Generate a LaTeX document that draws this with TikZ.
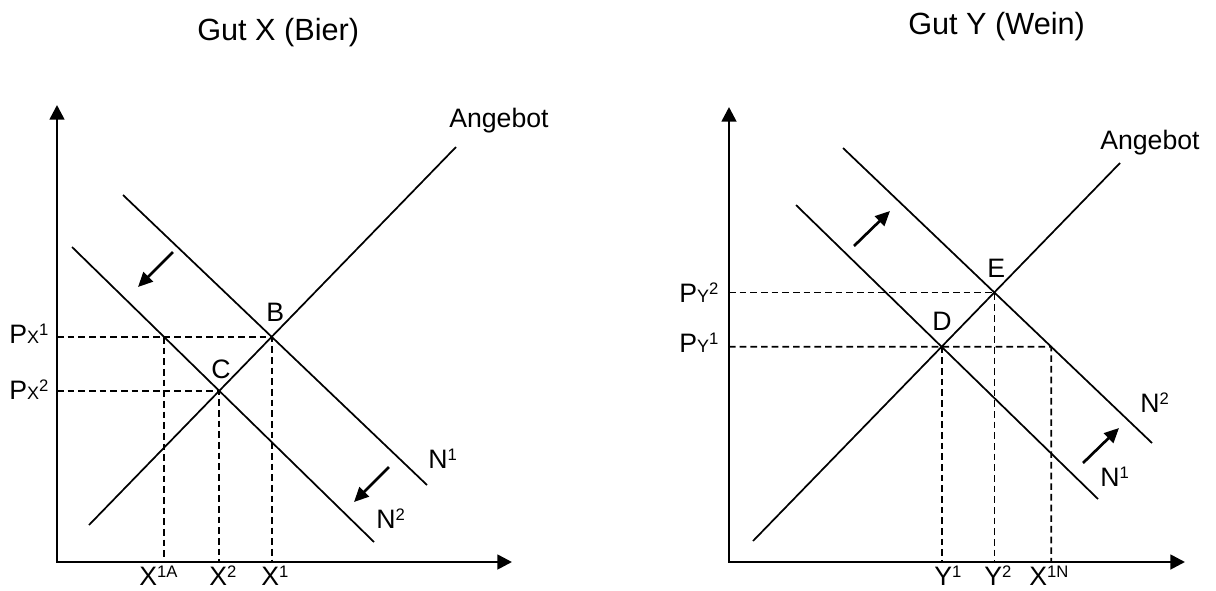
\documentclass[tikz,border=0pt]{standalone}
\usepackage{fontspec}
\setmainfont{Liberation Sans}
\usetikzlibrary{arrows.meta}
\newcommand{\hoch}[1]{\raisebox{5.4pt}{\fontsize{12.5}{13}\selectfont #1}}
\newcommand{\idx}[1]{{\fontsize{13.5}{14}\selectfont #1}}

\begin{document}
\begin{tikzpicture}[
    x=0.75pt,y=-0.75pt,
    >={Triangle[length=11pt,width=11pt]},
    axis/.style={<->,line width=2pt},
    curve/.style={line width=1.3pt},
    guide/.style={line width=1.3pt,dash pattern=on 5pt off 3pt},
    shiftarrow/.style={-{Triangle[length=11pt,width=10pt]},line width=2pt},
    lbl/.style={font=\fontsize{20}{24}\selectfont,inner sep=0pt,anchor=base west},
    heading/.style={font=\fontsize{23}{27}\selectfont,inner sep=0pt,anchor=base west}
  ]
    \useasboundingbox (0,0) rectangle (1216,590);

    % Gut X (Bier): demand falls from N1 to N2.
    \node[heading] (titelx) at (197,40) {Gut X (Bier)};
    \coordinate (ox) at (57,562);
    \coordinate (oxtop) at (57,105);
    \coordinate (oxend) at (512,562);
    \draw[axis] (oxtop) -- (ox) -- (oxend);
    \coordinate (sxa) at (89,525);
    \coordinate (sxb) at (456,147);
    \coordinate (nxa) at (123,195);
    \coordinate (nxb) at (427,485);
    \coordinate (mxa) at (72,247);
    \coordinate (mxb) at (374,542);
    \coordinate (B) at (intersection of sxa--sxb and nxa--nxb);
    \coordinate (C) at (intersection of sxa--sxb and mxa--mxb);
    \coordinate (px1) at (ox |- B);
    \coordinate (px2) at (ox |- C);
    \coordinate (x1a) at (intersection of mxa--mxb and px1--B);
    \draw[guide] (px1) -- (B) -- (B |- ox);
    \draw[guide] (px2) -- (C) -- (C |- ox);
    \draw[guide] (x1a) -- (x1a |- ox);
    \draw[curve] (sxa) -- (sxb);
    \draw[curve] (nxa) -- (nxb);
    \draw[curve] (mxa) -- (mxb);
    \coordinate (ax1) at (173,252);
    \coordinate (ax2) at (138,287);
    \coordinate (bx1) at (389,467);
    \coordinate (bx2) at (354,502);
    \draw[shiftarrow] (ax1) -- (ax2);
    \draw[shiftarrow] (bx1) -- (bx2);
    \node[lbl] (angx) at (449,127) {Angebot};
    \node[lbl] (labB) at (266,321) {B};
    \node[lbl] (labC) at (211,378) {C};
    \node[lbl] (labnx1) at (428,468) {N\hoch{1}};
    \node[lbl] (labnx2) at (376,528) {N\hoch{2}};
    \node[lbl] (labpx1) at (9,343) {P\idx{X}\hoch{1}};
    \node[lbl] (labpx2) at (9,399) {P\idx{X}\hoch{2}};
    \node[lbl] (labx1a) at (139,585) {X\hoch{1A}};
    \node[lbl] (labx2) at (209,585) {X\hoch{2}};
    \node[lbl] (labx1) at (261,585) {X\hoch{1}};

    % Gut Y (Wein): demand rises from N1 to N2.
    \node[heading] (titely) at (908,34) {Gut Y (Wein)};
    \coordinate (oy) at (729,562);
    \coordinate (oytop) at (729,107);
    \coordinate (oyend) at (1185,562);
    \draw[axis] (oytop) -- (oy) -- (oyend);
    \coordinate (sya) at (753,541);
    \coordinate (syb) at (1120,163);
    \coordinate (nya) at (796,205);
    \coordinate (nyb) at (1098,499);
    \coordinate (mya) at (843,148);
    \coordinate (myb) at (1152,443);
    \coordinate (D) at (intersection of sya--syb and nya--nyb);
    \coordinate (E) at (intersection of sya--syb and mya--myb);
    \coordinate (py1) at (oy |- D);
    \coordinate (py2) at (oy |- E);
    \coordinate (x1n) at (intersection of mya--myb and py1--D);
    \draw[guide] (py2) -- (E) -- (E |- oy);
    \draw[guide] (py1) -- (x1n) -- (x1n |- oy);
    \draw[guide] (D) -- (D |- oy);
    \draw[curve] (sya) -- (syb);
    \draw[curve] (nya) -- (nyb);
    \draw[curve] (mya) -- (myb);
    \coordinate (ay1) at (854,246);
    \coordinate (ay2) at (890,211);
    \coordinate (by1) at (1083,463);
    \coordinate (by2) at (1119,428);
    \draw[shiftarrow] (ay1) -- (ay2);
    \draw[shiftarrow] (by1) -- (by2);
    \node[lbl] (angy) at (1100,149) {Angebot};
    \node[lbl] (labE) at (987,277) {E};
    \node[lbl] (labD) at (932,330) {D};
    \node[lbl] (labny2) at (1140,412) {N\hoch{2}};
    \node[lbl] (labny1) at (1100,486) {N\hoch{1}};
    \node[lbl] (labpy2) at (679,302) {P\idx{Y}\hoch{2}};
    \node[lbl] (labpy1) at (679,352) {P\idx{Y}\hoch{1}};
    \node[lbl] (laby1) at (934,585) {Y\hoch{1}};
    \node[lbl] (laby2) at (984,585) {Y\hoch{2}};
    \node[lbl] (labx1n) at (1029,585) {X\hoch{1N}};
\end{tikzpicture}
\end{document}
